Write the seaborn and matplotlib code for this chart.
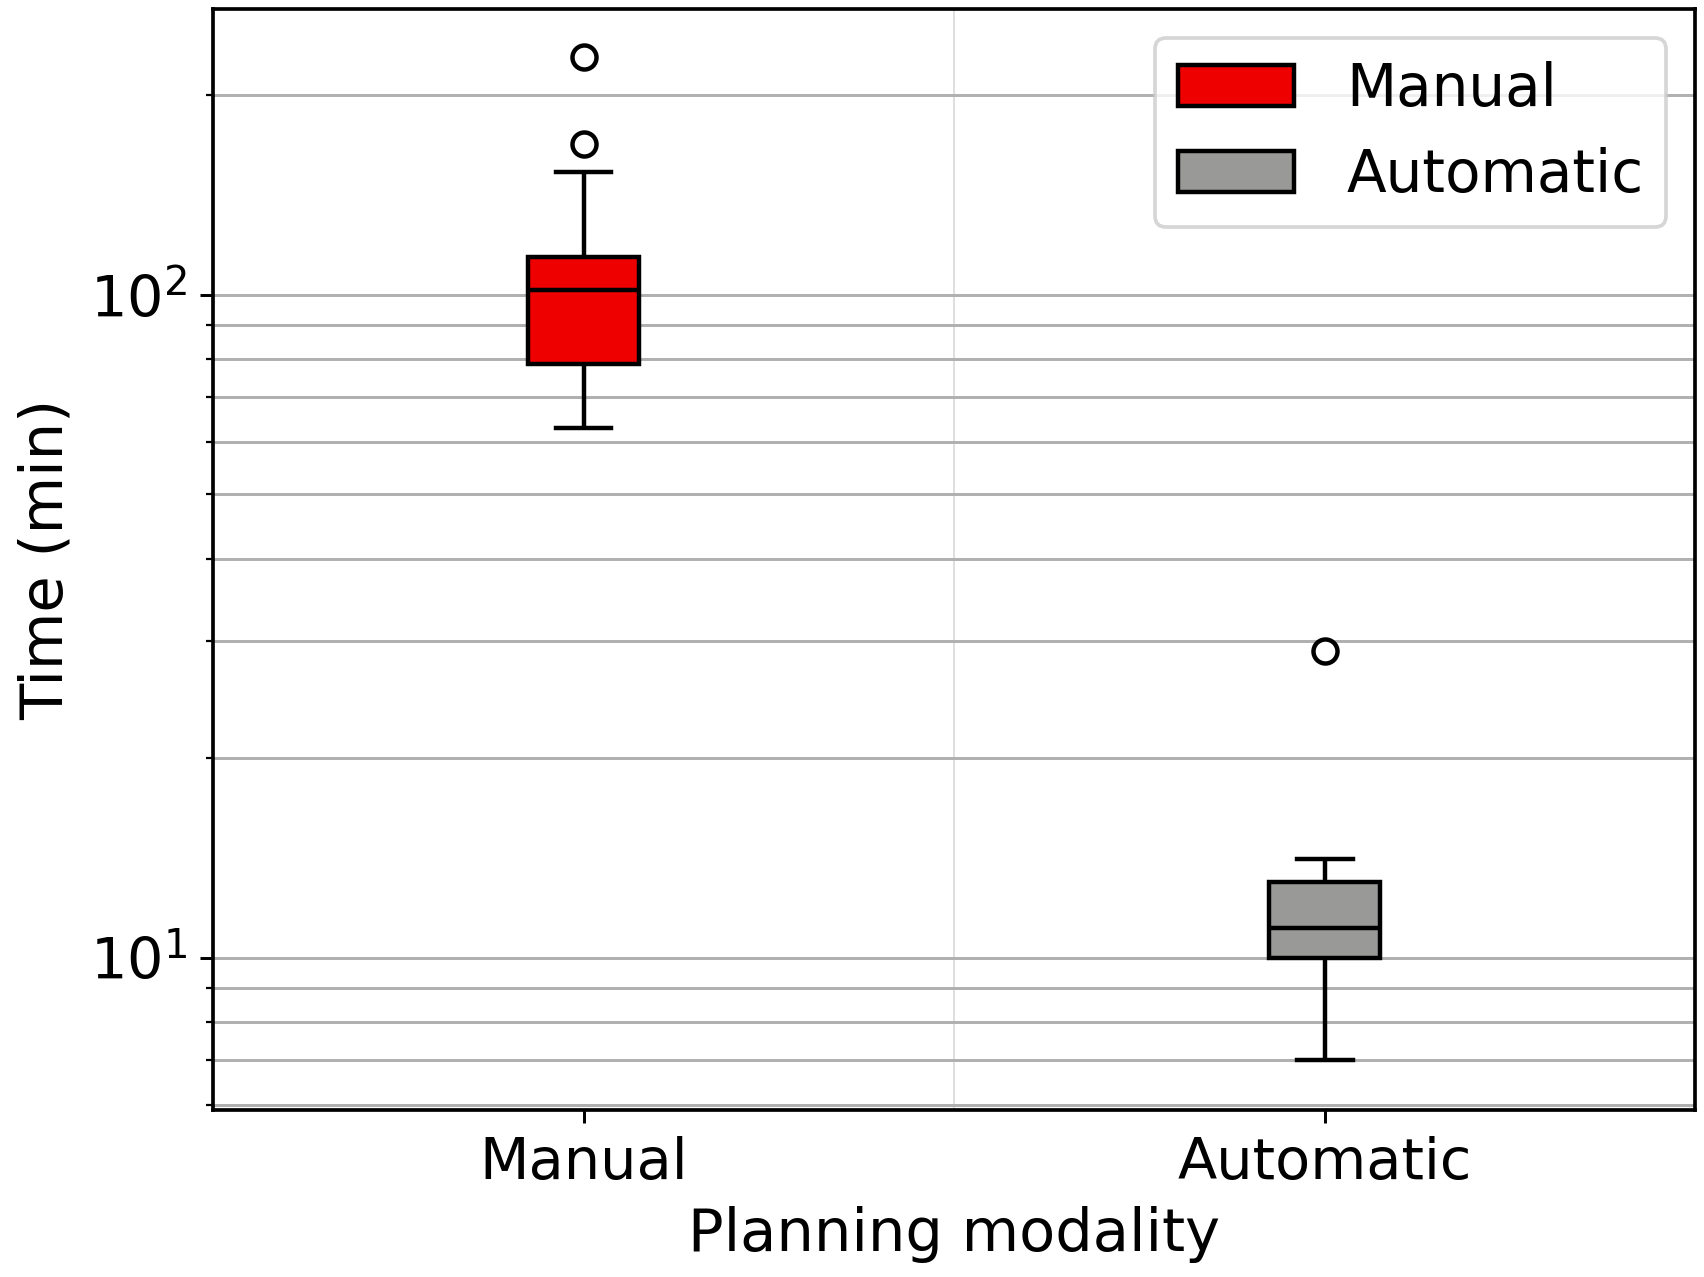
import pandas as pd
import seaborn as sns
import matplotlib.pyplot as plt
from matplotlib.patches import Patch

# Tempos de planejamento (min)
modalities = ['Manual', 'Automatic']
manual_times = [63, 70, 75, 78.5, 88, 95, 101.5, 105, 110, 114, 153, 169, 228]
automatic_times = [7.0, 8.5, 9.5, 10.0, 10.4, 10.8, 11.1, 11.6, 12.3, 13.0, 13.6, 14.1, 29.0]
colors = {'Manual': '#ee0000', 'Automatic': '#999a98'}

df = pd.DataFrame({
    'Planning modality': ['Manual'] * len(manual_times) + ['Automatic'] * len(automatic_times),
    'Time (min)': manual_times + automatic_times,
})

fig, ax = plt.subplots(figsize=(6.4, 4.797), dpi=266.25)
plt.subplots_adjust(left=0.125, right=0.995, bottom=0.131, top=0.993)

sns.boxplot(x='Planning modality', y='Time (min)', hue='Planning modality', data=df,
            order=modalities, hue_order=modalities, palette=colors, width=0.15,
            linecolor='black', linewidth=1.2, legend=False, saturation=1,
            flierprops=dict(marker='o', markersize=6.5, markerfacecolor='white',
                            markeredgecolor='black', markeredgewidth=1.2),
            ax=ax)

ax.set_yscale('log')
ax.set_ylim(5.9, 270)
ax.set_xlim(-0.5, 1.5)
ax.yaxis.grid(True, which='both', color='#b0b0b0', linewidth=0.8)
ax.axvline(0.5, color='#dddddd', linewidth=0.5, zorder=0)
ax.set_axisbelow(True)
for s in ax.spines.values():
    s.set_linewidth(1.0)

ax.set_xlabel('Planning modality', fontsize=16)
ax.set_ylabel('Time (min)', fontsize=16)
ax.tick_params(axis='both', labelsize=15.5)

handles = [Patch(facecolor=colors[m], edgecolor='black', linewidth=1.2, label=m) for m in modalities]
ax.legend(handles=handles, loc='upper right', fontsize=15.7, handletextpad=0.9)

plt.savefig('out.png')
